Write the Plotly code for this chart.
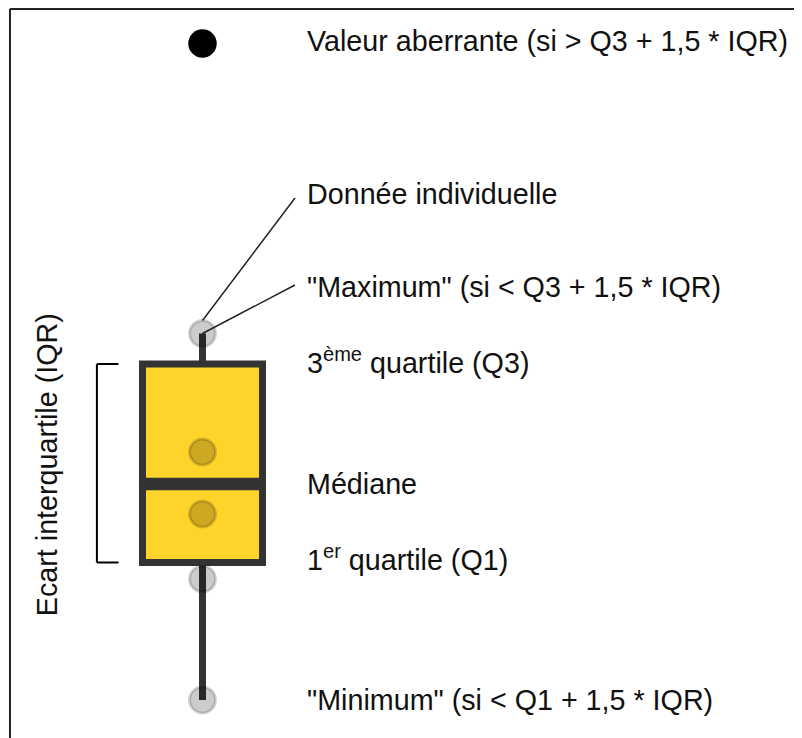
import plotly.graph_objects as go

# schematic box plot, values in arbitrary units
minimum = 0.0
q1 = 13.75
median = 21.6
q3 = 33.6
maximum = 36.65
outlier = 65.65
points = [36.65, 24.8, 18.6, 12.1, 0.0]  # individual observations

box_x = 0
box_width = 1.0

outlier_label = "Valeur aberrante (si > Q3 + 1,5 * IQR)"
point_label = "Donnée individuelle"
max_label = '"Maximum" (si < Q3 + 1,5 * IQR)'
q3_label = "3<sup>ème</sup> quartile (Q3)"
median_label = "Médiane"
q1_label = "1<sup>er</sup> quartile (Q1)"
min_label = '"Minimum" (si < Q1 + 1,5 * IQR)'
iqr_label = "Ecart interquartile (IQR)"

FONT = "Liberation Sans, Arial, sans-serif"
DARK = "#333333"

fig = go.Figure()

fig.add_trace(go.Box(
    x=[box_x], q1=[q1], median=[median], q3=[q3],
    lowerfence=[minimum], upperfence=[maximum],
    orientation="v", width=box_width, whiskerwidth=0,
    fillcolor="#FFD42A", line=dict(color=DARK, width=7),
    boxpoints=False, hoverinfo="skip",
))

# individual data points (translucent grey)
fig.add_trace(go.Scatter(
    x=[box_x] * len(points), y=points, mode="markers",
    marker=dict(size=26, color="rgba(0,0,0,0.2)",
                line=dict(color="rgba(0,0,0,0.16)", width=3)),
    hoverinfo="skip",
))

# outlier
fig.add_trace(go.Scatter(
    x=[box_x], y=[outlier], mode="markers",
    marker=dict(size=28.5, color="black"),
    hoverinfo="skip",
))

lead = dict(color="#222", width=1.5)
shapes = [
    # thicker median bar
    dict(type="line", xref="x", yref="y", x0=box_x - box_width / 2, x1=box_x + box_width / 2,
         y0=median, y1=median, line=dict(color=DARK, width=12.7), layer="above"),
    # IQR bracket
    dict(type="line", xref="x", yref="y", x0=-0.88, x1=-0.88, y0=q1, y1=q3,
         line=dict(color="black", width=2)),
    dict(type="line", xref="x", yref="y", x0=-0.88, x1=-0.7, y0=q3, y1=q3,
         line=dict(color="black", width=2)),
    dict(type="line", xref="x", yref="y", x0=-0.88, x1=-0.7, y0=q1, y1=q1,
         line=dict(color="black", width=2)),
    # leader lines to the "maximum" observation
    dict(type="line", xref="x", yref="y", xsizemode="pixel", ysizemode="pixel",
         xanchor=box_x, yanchor=maximum, x0=0, x1=92.5, y0=13, y1=135.5, line=lead),
    dict(type="line", xref="x", yref="y", xsizemode="pixel", ysizemode="pixel",
         xanchor=box_x, yanchor=maximum, x0=0, x1=92.5, y0=0, y1=48.5, line=lead),
    # frame (top / left)
    dict(type="line", xref="paper", yref="paper", x0=0.0025, x1=1, y0=0.9986, y1=0.9986,
         line=dict(color="#222", width=2)),
    dict(type="line", xref="paper", yref="paper", x0=0.0025, x1=0.0025, y0=0, y1=0.9986,
         line=dict(color="#222", width=2)),
]

txt = dict(family=FONT, size=28.7, color="#111")
lx = 0.374
annotations = [
    dict(x=lx, xref="paper", y=outlier, yref="y", text=outlier_label, yshift=3),
    dict(x=lx, xref="paper", y=maximum, yref="y", text=point_label, yshift=140),
    dict(x=lx, xref="paper", y=maximum, yref="y", text=max_label, yshift=46.5),
    dict(x=lx, xref="paper", y=q3, yref="y", text=q3_label, yshift=3),
    dict(x=lx, xref="paper", y=median, yref="y", text=median_label),
    dict(x=lx, xref="paper", y=q1, yref="y", text=q1_label, yshift=5),
    dict(x=lx, xref="paper", y=minimum, yref="y", text=min_label),
]
for a in annotations:
    a.update(xanchor="left", yanchor="middle", showarrow=False, font=txt)

annotations.append(dict(x=0.049, xref="paper", y=(q1 + q3) / 2, yref="y", text=iqr_label,
                        textangle=-90, showarrow=False, font=txt,
                        xanchor="center", yanchor="middle", yshift=-1))

# page body adds an 8px offset, so the figure is 8px smaller than the window
fig.update_layout(
    width=794, height=730,
    margin=dict(l=0, r=0, t=0, b=0),
    paper_bgcolor="white", plot_bgcolor="white",
    showlegend=False,
    xaxis=dict(range=[-1.6208, 4.9958], visible=False, fixedrange=True),
    yaxis=dict(range=[-3.8, 69.2], visible=False, fixedrange=True),
    shapes=shapes, annotations=annotations,
)

fig.write_html("out.html")
